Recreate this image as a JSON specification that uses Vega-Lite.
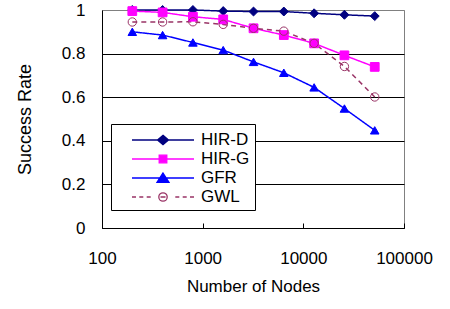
{
  "$schema": "https://vega.github.io/schema/vega-lite/v6.json",
  "autosize": {"type": "none"},
  "padding": {"left": 102, "top": 10, "right": 46, "bottom": 81},
  "width": 302,
  "height": 218,
  "background": "white",
  "config": {
    "font": "Liberation Sans",
    "view": {"stroke": "#808080", "strokeWidth": 1}
  },
  "data": {
    "values": [
      {"series": "HIR-D", "nodes": 200, "rate": 1.0},
      {"series": "HIR-D", "nodes": 400, "rate": 1.0},
      {"series": "HIR-D", "nodes": 800, "rate": 1.0},
      {"series": "HIR-D", "nodes": 1600, "rate": 0.995},
      {"series": "HIR-D", "nodes": 3200, "rate": 0.993},
      {"series": "HIR-D", "nodes": 6400, "rate": 0.993},
      {"series": "HIR-D", "nodes": 12800, "rate": 0.985},
      {"series": "HIR-D", "nodes": 25600, "rate": 0.978},
      {"series": "HIR-D", "nodes": 51200, "rate": 0.972},
      {"series": "HIR-G", "nodes": 200, "rate": 0.995},
      {"series": "HIR-G", "nodes": 400, "rate": 0.989},
      {"series": "HIR-G", "nodes": 800, "rate": 0.969},
      {"series": "HIR-G", "nodes": 1600, "rate": 0.957},
      {"series": "HIR-G", "nodes": 3200, "rate": 0.916},
      {"series": "HIR-G", "nodes": 6400, "rate": 0.885},
      {"series": "HIR-G", "nodes": 12800, "rate": 0.847},
      {"series": "HIR-G", "nodes": 25600, "rate": 0.792},
      {"series": "HIR-G", "nodes": 51200, "rate": 0.739},
      {"series": "GFR", "nodes": 200, "rate": 0.9},
      {"series": "GFR", "nodes": 400, "rate": 0.885},
      {"series": "GFR", "nodes": 800, "rate": 0.851},
      {"series": "GFR", "nodes": 1600, "rate": 0.816},
      {"series": "GFR", "nodes": 3200, "rate": 0.762},
      {"series": "GFR", "nodes": 6400, "rate": 0.712},
      {"series": "GFR", "nodes": 12800, "rate": 0.645},
      {"series": "GFR", "nodes": 25600, "rate": 0.548},
      {"series": "GFR", "nodes": 51200, "rate": 0.448},
      {"series": "GWL", "nodes": 200, "rate": 0.945},
      {"series": "GWL", "nodes": 400, "rate": 0.945},
      {"series": "GWL", "nodes": 800, "rate": 0.946},
      {"series": "GWL", "nodes": 1600, "rate": 0.934},
      {"series": "GWL", "nodes": 3200, "rate": 0.916},
      {"series": "GWL", "nodes": 6400, "rate": 0.903},
      {"series": "GWL", "nodes": 12800, "rate": 0.847},
      {"series": "GWL", "nodes": 25600, "rate": 0.741},
      {"series": "GWL", "nodes": 51200, "rate": 0.601}
    ]
  },
  "encoding": {
    "x": {
      "field": "nodes",
      "type": "quantitative",
      "title": "Number of Nodes",
      "scale": {"type": "log", "domain": [100, 100000]},
      "axis": {
        "values": [100, 1000, 10000, 100000],
        "format": "d",
        "grid": false,
        "tickSize": -5,
        "tickColor": "black",
        "domainColor": "black",
        "labelFontSize": 17,
        "labelColor": "black",
        "labelPadding": 27,
        "labelFlush": false,
        "labelOverlap": false,
        "labelBound": false,
        "titleFontSize": 17,
        "titleFontWeight": "normal",
        "titleColor": "black",
        "titlePadding": 12
      }
    },
    "y": {
      "field": "rate",
      "type": "quantitative",
      "title": "Success Rate",
      "scale": {"domain": [0, 1]},
      "axis": {
        "values": [0, 0.2, 0.4, 0.6, 0.8, 1],
        "format": "~g",
        "ticks": false,
        "grid": true,
        "gridColor": {"condition": {"test": "datum.value === 1", "value": "#808080"}, "value": "black"},
        "gridWidth": 1,
        "gridOpacity": 1,
        "domainColor": "black",
        "labelFontSize": 17,
        "labelColor": "black",
        "labelPadding": 17,
        "titleFontSize": 18,
        "titleFontWeight": "normal",
        "titleColor": "black",
        "titlePadding": 27
      }
    }
  },
  "layer": [
    {
      "mark": {"type": "line", "strokeWidth": 1.5},
      "encoding": {
        "stroke": {
          "field": "series", "type": "nominal",
          "scale": {"domain": ["HIR-D", "HIR-G", "GFR", "GWL"], "range": ["#000080", "#ff00ff", "#0000ff", "#993366"]},
          "legend": null
        },
        "strokeDash": {
          "field": "series", "type": "nominal",
          "scale": {"domain": ["HIR-D", "HIR-G", "GFR", "GWL"], "range": [[1, 0], [1, 0], [1, 0], [5, 4]]},
          "legend": null
        }
      }
    },
    {
      "mark": {"type": "point", "filled": true, "opacity": 1, "strokeWidth": 1},
      "encoding": {
        "shape": {
          "field": "series", "type": "nominal",
          "scale": {"domain": ["HIR-D", "HIR-G", "GFR", "GWL"], "range": ["diamond", "square", "triangle-up", "circle"]},
          "legend": null
        },
        "fill": {
          "field": "series", "type": "nominal",
          "scale": {"domain": ["HIR-D", "HIR-G", "GFR", "GWL"], "range": ["#000080", "#ff00ff", "#0000ff", "transparent"]},
          "legend": null
        },
        "stroke": {
          "field": "series", "type": "nominal",
          "scale": {"domain": ["HIR-D", "HIR-G", "GFR", "GWL"], "range": ["#000080", "#ff00ff", "#0000ff", "#993366"]},
          "legend": null
        },
        "size": {
          "field": "series", "type": "nominal",
          "scale": {"domain": ["HIR-D", "HIR-G", "GFR", "GWL"], "range": [80, 70, 100, 75]},
          "legend": null
        }
      }
    },
    {
      "mark": {"type": "point", "filled": true, "opacity": 0, "strokeWidth": 1.3},
      "encoding": {
        "shape": {
          "field": "series", "type": "nominal",
          "scale": {"domain": ["HIR-D", "HIR-G", "GFR", "GWL"], "range": [
            "M0.5,0H6.7M3.6,-0.47L4.15,0L3.6,0.47L3.05,0Z",
            "M0.5,0H6.7M3.22,-0.38H3.98V0.38H3.22Z",
            "M0.5,0H6.7M3.6,-0.5L4.2,0.43L3,0.43Z",
            "M0.5,0H0.9M1.23,0H1.63M1.97,0H2.37M3.35,0H3.85M4.83,0H5.23M5.57,0H5.97M6.3,0H6.7M4.02,0A0.42,0.42 0 1,1 3.18,0A0.42,0.42 0 1,1 4.02,0Z"
          ]},
          "legend": {"orient": "none", "legendX": 9, "legendY": 114, "title": null, "symbolSize": 400, "symbolOpacity": 1, "symbolStrokeWidth": 1.3, "labelOffset": 63, "labelFontSize": 17, "labelColor": "black", "padding": 5, "rowPadding": 0, "strokeColor": "black", "fillColor": "white", "cornerRadius": 0}
        },
        "fill": {
          "field": "series", "type": "nominal",
          "scale": {"domain": ["HIR-D", "HIR-G", "GFR", "GWL"], "range": ["#000080", "#ff00ff", "#0000ff", "transparent"]},
          "legend": {"orient": "none", "legendX": 9, "legendY": 114, "title": null, "symbolSize": 400, "symbolOpacity": 1, "symbolStrokeWidth": 1.3, "labelOffset": 63, "labelFontSize": 17, "labelColor": "black", "padding": 5, "rowPadding": 0, "strokeColor": "black", "fillColor": "white", "cornerRadius": 0}
        },
        "stroke": {
          "field": "series", "type": "nominal",
          "scale": {"domain": ["HIR-D", "HIR-G", "GFR", "GWL"], "range": ["#000080", "#ff00ff", "#0000ff", "#993366"]},
          "legend": {"orient": "none", "legendX": 9, "legendY": 114, "title": null, "symbolSize": 400, "symbolOpacity": 1, "symbolStrokeWidth": 1.3, "labelOffset": 63, "labelFontSize": 17, "labelColor": "black", "padding": 5, "rowPadding": 0, "strokeColor": "black", "fillColor": "white", "cornerRadius": 0}
        }
      }
    }
  ],
  "resolve": {
    "scale": {"shape": "independent", "fill": "independent", "stroke": "independent", "strokeDash": "independent", "size": "independent"}
  }
}
